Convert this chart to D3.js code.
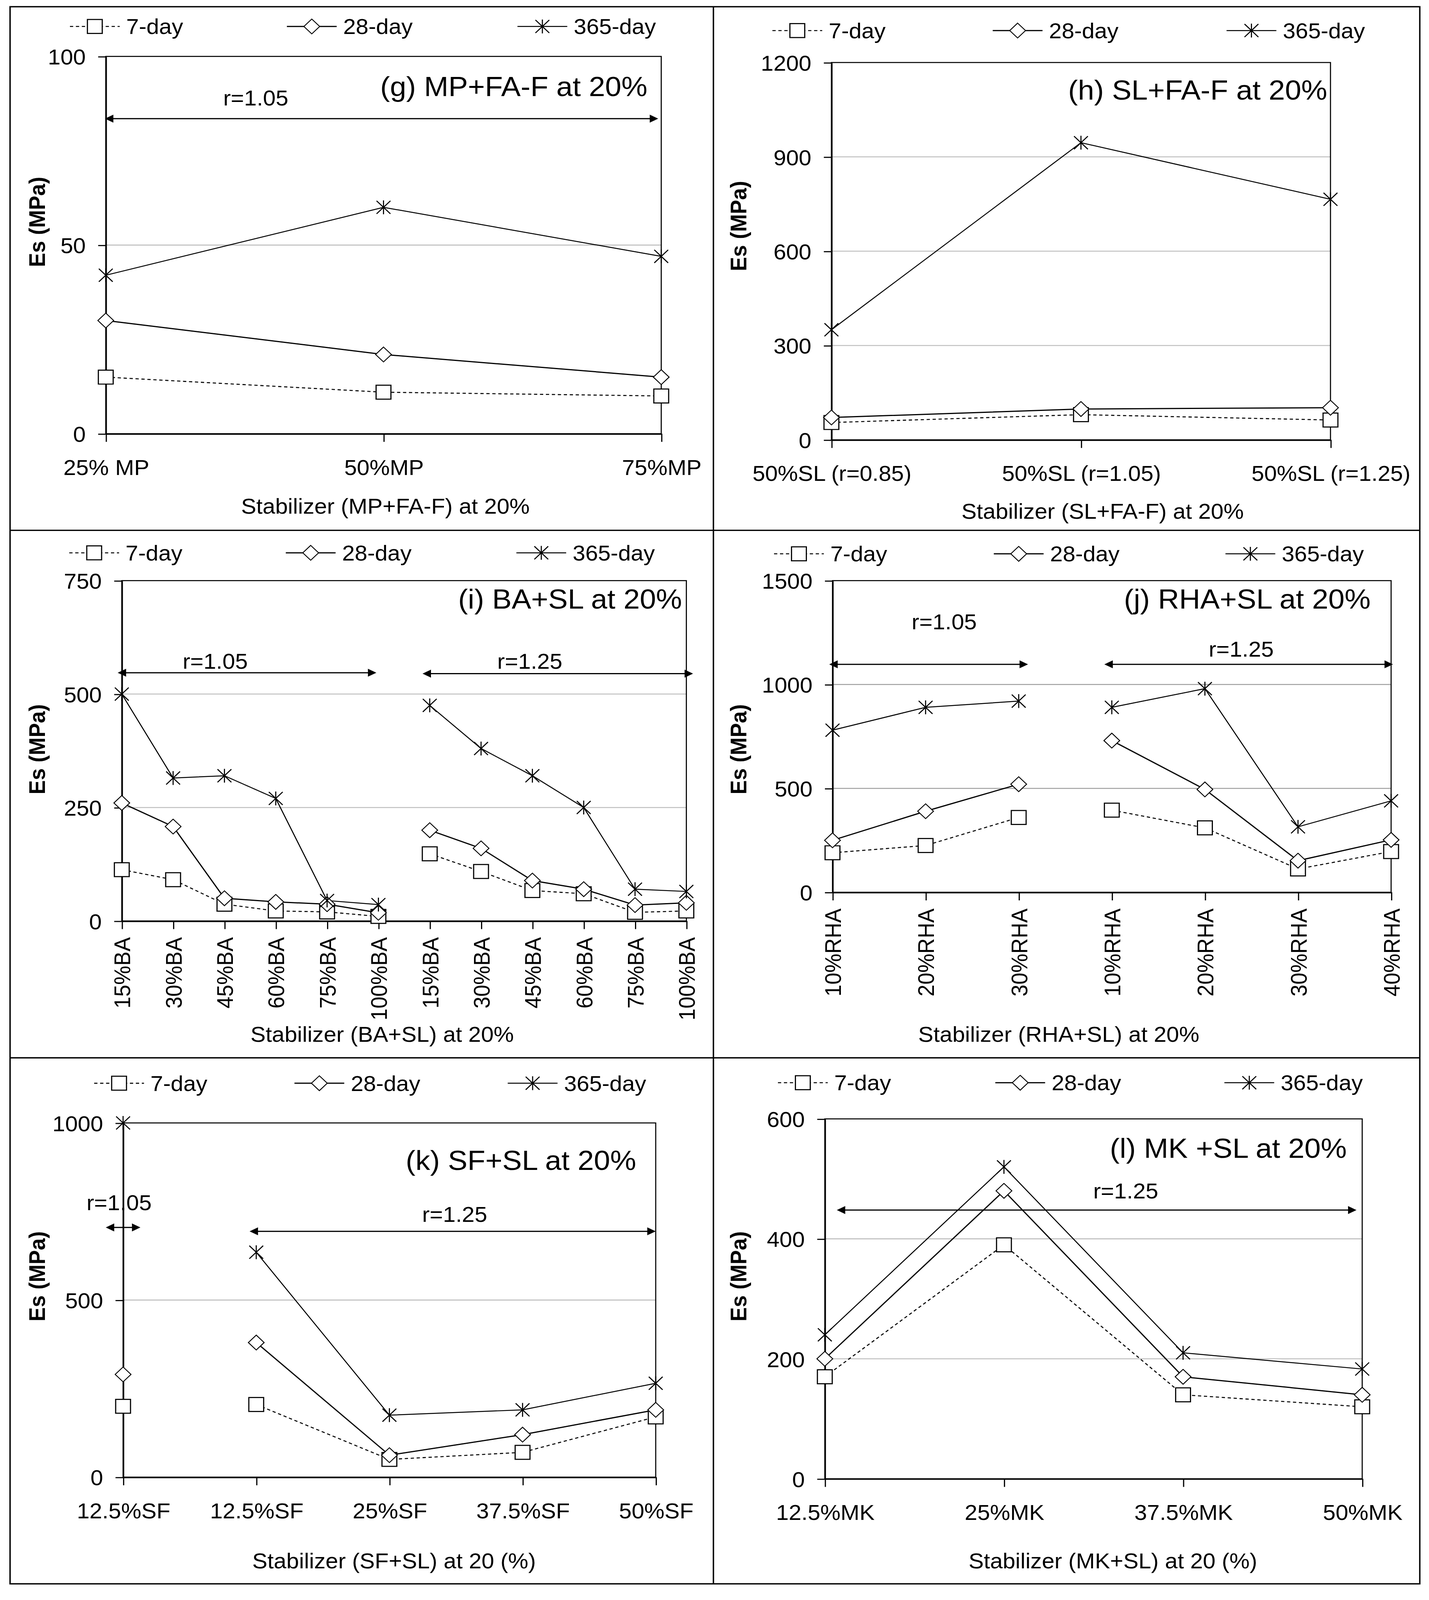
<!DOCTYPE html>
<html><head><meta charset="utf-8">
<script src="https://cdn.jsdelivr.net/npm/d3@7/dist/d3.min.js"></script>
<style>html,body{margin:0;padding:0;background:#fff;overflow:hidden;} svg{display:block;}</style>
</head><body>
<svg id="chart"></svg>
<script>
// ---------------- DATA ----------------
const seriesNames = ["7-day", "28-day", "365-day"];

const gCategories = ["25% MP", "50%MP", "75%MP"];
const g7 = [15, 11, 10];
const g28 = [30, 21, 15];
const g365 = [42, 60, 47];
const gTicks = [0, 50, 100];

const hCategories = ["50%SL (r=0.85)", "50%SL (r=1.05)", "50%SL (r=1.25)"];
const h7 = [55, 80, 63];
const h28 = [71, 98, 102];
const h365 = [350, 945, 765];
const hTicks = [0, 300, 600, 900, 1200];

const iCategories = ["15%BA", "30%BA", "45%BA", "60%BA", "75%BA", "100%BA",
                     "15%BA", "30%BA", "45%BA", "60%BA", "75%BA", "100%BA"];
const i7 = [113, 91, 37, 22, 20, 10, 148, 109, 67, 60, 19, 22];
const i28 = [260, 208, 50, 42, 37, 18, 200, 160, 89, 70, 35, 40];
const i365 = [500, 315, 320, 270, 45, 36, 475, 380, 320, 250, 70, 65];
const iTicks = [0, 250, 500, 750];
const iBreaks = [6];

const jCategories = ["10%RHA", "20%RHA", "30%RHA", "10%RHA", "20%RHA", "30%RHA", "40%RHA"];
const j7 = [190, 225, 360, 395, 310, 112, 196];
const j28 = [250, 390, 520, 730, 495, 152, 252];
const j365 = [780, 890, 920, 890, 980, 315, 440];
const jTicks = [0, 500, 1000, 1500];
const jBreaks = [3];

const kCategories = ["12.5%SF", "12.5%SF", "25%SF", "37.5%SF", "50%SF"];
const k7 = [200, 205, 50, 70, 170];
const k28 = [290, 380, 62, 120, 190];
const k365 = [1000, 635, 175, 190, 265];
const kTicks = [0, 500, 1000];
const kBreaks = [1];

const lCategories = ["12.5%MK", "25%MK", "37.5%MK", "50%MK"];
const l7 = [170, 390, 140, 120];
const l28 = [200, 480, 170, 140];
const l365 = [240, 520, 210, 183];
const lTicks = [0, 200, 400, 600];

const titles = ["(g) MP+FA-F at 20%", "(h) SL+FA-F at 20%", "(i) BA+SL at 20%",
                "(j) RHA+SL at 20%", "(k) SF+SL at 20%", "(l) MK +SL at 20%"];
const xTitles = ["Stabilizer (MP+FA-F) at 20%", "Stabilizer (SL+FA-F) at 20%", "Stabilizer (BA+SL) at 20%",
                 "Stabilizer (RHA+SL) at 20%", "Stabilizer (SF+SL) at 20 (%)", "Stabilizer (MK+SL) at 20 (%)"];
const yTitle = "Es (MPa)";

// ---------------- LAYOUT ----------------
const VW = 1320, VH = 4354 / (3657 / 1320);
const FONT = "'Liberation Sans', Arial, Helvetica, sans-serif";

const panels = [
  { cats: gCategories, series: [g7, g28, g365], ticks: gTicks, breaks: [], rotate: false,
    L: 97.7, R: 610.8, T: 55.4, B: 426, grid: "#c0c0c0",
    titleX: 598, titleY: 84.5, xtX: 356, xtY: 497, ytX: 34, ytY: 218,
    legY: 26, legX: [87.6, 288, 501],
    arrows: [[-0.003, 1.989, 83.5]], rlabels: [[0.54, 89, "r=1.05"]] },
  { cats: hCategories, series: [h7, h28, h365], ticks: hTicks, breaks: [], rotate: false,
    L: 768, R: 1229, T: 61.4, B: 432, grid: "#c0c0c0",
    titleX: 1226, titleY: 88, xtX: 1018.5, xtY: 502, ytX: 682, ytY: 222,
    legY: 30, legX: [736.5, 940, 1156],
    arrows: [], rlabels: [] },
  { cats: iCategories, series: [i7, i28, i365], ticks: iTicks, breaks: iBreaks, rotate: true,
    L: 112.5, R: 634, T: 570.3, B: 904.6, grid: "#c0c0c0",
    titleX: 630, titleY: 588, xtX: 353, xtY: 1015.7, ytX: 34, ytY: 736,
    legY: 543, legX: [87, 287, 500],
    arrows: [[-0.08, 4.96, 547], [5.86, 11.13, 545]],
    rlabels: [[1.82, 573, "r=1.05"], [7.95, 573, "r=1.25"]] },
  { cats: jCategories, series: [j7, j28, j365], ticks: jTicks, breaks: jBreaks, rotate: true,
    L: 769, R: 1285, T: 570.3, B: 876.4, grid: "#a0a0a0",
    titleX: 1266, titleY: 588, xtX: 978, xtY: 1015.7, ytX: 682, ytY: 736,
    legY: 544, legX: [738, 941, 1155],
    arrows: [[-0.035, 2.1, 1097], [2.92, 6.02, 1097]],
    rlabels: [[1.2, 1303, "r=1.05"], [4.39, 1170, "r=1.25"]] },
  { cats: kCategories, series: [k7, k28, k365], ticks: kTicks, breaks: kBreaks, rotate: false,
    L: 113.7, R: 605.7, T: 1103, B: 1450.9, grid: "#c0c0c0",
    titleX: 587.6, titleY: 1139.6, xtX: 364, xtY: 1533, ytX: 34, ytY: 1253.7,
    legY: 1064, legX: [110, 295, 492],
    arrows: [[-0.13, 0.13, 705], [0.95, 4.0, 694]],
    rlabels: [[-0.03, 775, "r=1.05"], [2.49, 742, "r=1.25"]] },
  { cats: lCategories, series: [l7, l28, l365], ticks: lTicks, breaks: [], rotate: false,
    L: 761.9, R: 1258.3, T: 1099, B: 1452.5, grid: "#c0c0c0",
    titleX: 1244, titleY: 1127.7, xtX: 1028, xtY: 1533, ytX: 682, ytY: 1253.7,
    legY: 1063.5, legX: [741.6, 942.4, 1154],
    arrows: [[0.067, 2.968, 448]], rlabels: [[1.68, 480, "r=1.25"]] }
];

const lineStyles = [
  { w: 1.0, dash: "3 2.5" },
  { w: 1.15, dash: null },
  { w: 0.95, dash: null }
];

function markerPath(k) {
  if (k === 0) { const s = 6.85; return `M${-s},${-s}H${s}V${s}H${-s}Z`; }
  if (k === 1) { const s = 7.3; return `M0,${-s}L${s},0L0,${s}L${-s},0Z`; }
  const s = 6.4, v = 6.8;
  return `M${-s},${-s}L${s},${s}M${-s},${s}L${s},${-s}M0,${-v}L0,${v}`;
}
const markerStroke = [1.05, 0.85, 1.0];

// ---------------- DRAW ----------------
const pageW = window.innerWidth || 3657;
const pageH = window.innerHeight || 4354;
const svg = d3.select("#chart")
  .attr("width", pageW).attr("height", pageH)
  .attr("viewBox", `0 0 ${VW} ${VH}`)
  .attr("preserveAspectRatio", "none")
  .style("font-family", FONT);

svg.append("rect").attr("width", VW).attr("height", VH).attr("fill", "#fff");

// outer frame
const frame = svg.append("g").attr("stroke", "#000").attr("stroke-width", 1.3).attr("fill", "none");
frame.append("rect").attr("x", 9.3).attr("y", 6.6).attr("width", 1311.5 - 9.3).attr("height", 1555.7 - 6.6);
frame.append("line").attr("x1", 659).attr("x2", 659).attr("y1", 6.6).attr("y2", 1555.7);
[520.9, 1039].forEach(yy => frame.append("line").attr("x1", 9.3).attr("x2", 1311.5).attr("y1", yy).attr("y2", yy));

function arrowHead(g, x, y, dir) {
  const L = 7.8, H = 3.9;
  g.append("path").attr("d", `M${x},${y}L${x - dir * L},${y - H}L${x - dir * L},${y + H}Z`)
    .attr("fill", "#000").attr("stroke", "none");
}

panels.forEach((p, pi) => {
  const g = svg.append("g");
  const n = p.cats.length;
  const yMax = d3.max(p.ticks);
  const x = d3.scalePoint().domain(d3.range(n)).range([p.L, p.R]).padding(0);
  const xf = d3.scaleLinear().domain([0, n - 1]).range([p.L, p.R]);
  const y = d3.scaleLinear().domain([0, yMax]).range([p.B, p.T]);

  // gridlines
  g.append("g").selectAll("line").data(p.ticks.filter(t => t > 0 && t < yMax)).join("line")
    .attr("x1", p.L).attr("x2", p.R).attr("y1", d => y(d)).attr("y2", d => y(d))
    .attr("stroke", p.grid).attr("stroke-width", 1);

  // plot border
  g.append("rect").attr("x", p.L).attr("y", p.T).attr("width", p.R - p.L).attr("height", p.B - p.T)
    .attr("fill", "none").attr("stroke", "#000").attr("stroke-width", 1);

  // y axis
  const ya = g.append("g").attr("transform", `translate(${p.L},0)`)
    .call(d3.axisLeft(y).tickValues(p.ticks).tickFormat(d3.format("d")).tickSize(7).tickSizeOuter(0).tickPadding(11.5));
  ya.selectAll("path,line").attr("stroke", "#000").attr("stroke-width", 1.1);
  ya.selectAll("text").attr("font-size", 21).attr("font-family", FONT).attr("fill", "#000").attr("dy", "0.36em");

  // x axis
  const xa = g.append("g").attr("transform", `translate(0,${p.B})`)
    .call(d3.axisBottom(x).tickFormat(i => p.cats[i]).tickSize(8).tickSizeOuter(0).tickPadding(17.5));
  xa.selectAll("path,line").attr("stroke", "#000").attr("stroke-width", 1.1);
  xa.selectAll("text").attr("font-size", 21).attr("font-family", FONT).attr("fill", "#000");
  if (p.rotate) {
    xa.selectAll("text")
      .attr("transform", "rotate(-90)")
      .attr("text-anchor", "end")
      .attr("x", -16).attr("y", 0).attr("dy", "0.35em");
  }

  // lines
  const cuts = [0, ...p.breaks, n];
  const segs = [];
  for (let c = 0; c < cuts.length - 1; c++) segs.push(d3.range(cuts[c], cuts[c + 1]));
  const line = d3.line().x(d => x(d.i)).y(d => y(d.v));
  p.series.forEach((vals, si) => {
    segs.forEach(seg => {
      if (seg.length < 2) return;
      g.append("path").datum(seg.map(i => ({ i, v: vals[i] })))
        .attr("d", line).attr("fill", "none").attr("stroke", "#000")
        .attr("stroke-width", lineStyles[si].w)
        .attr("stroke-dasharray", lineStyles[si].dash);
    });
  });
  // markers
  p.series.forEach((vals, si) => {
    g.append("g").selectAll("path").data(vals.map((v, i) => ({ i, v }))).join("path")
      .attr("transform", d => `translate(${x(d.i)},${y(d.v)})`)
      .attr("d", markerPath(si))
      .attr("fill", si < 2 ? "#fff" : "none").attr("stroke", "#000")
      .attr("stroke-width", markerStroke[si]);
  });

  // arrows
  p.arrows.forEach(([a, b, v]) => {
    const x1 = xf(a), x2 = xf(b), yy = y(v);
    g.append("line").attr("x1", x1 + 6).attr("x2", x2 - 6).attr("y1", yy).attr("y2", yy)
      .attr("stroke", "#000").attr("stroke-width", 1.1);
    arrowHead(g, x1, yy, -1);
    arrowHead(g, x2, yy, 1);
  });
  p.rlabels.forEach(([a, v, t]) => {
    g.append("text").attr("x", xf(a)).attr("y", y(v) + 7.5).attr("text-anchor", "middle")
      .attr("font-size", 21).text(t);
  });

  // title
  g.append("text").attr("x", p.titleX).attr("y", p.titleY + 9.7).attr("text-anchor", "end")
    .attr("font-size", 27).text(titles[pi]);

  // x title
  g.append("text").attr("x", p.xtX).attr("y", p.xtY + 7.5).attr("text-anchor", "middle")
    .attr("font-size", 21).text(xTitles[pi]);

  // y title
  g.append("text").attr("transform", `translate(${p.ytX + 7.5},${p.ytY}) rotate(-90)`)
    .attr("text-anchor", "middle").attr("font-size", 21).attr("font-weight", "bold").text(yTitle);

  // legend
  const lg = g.append("g");
  seriesNames.forEach((name, si) => {
    const mx = p.legX[si], my = p.legY;
    lg.append("line").attr("x1", mx - 23).attr("x2", mx + 23).attr("y1", my).attr("y2", my)
      .attr("stroke", "#000").attr("stroke-width", lineStyles[si].w)
      .attr("stroke-dasharray", lineStyles[si].dash);
    lg.append("path").attr("transform", `translate(${mx},${my})`).attr("d", markerPath(si))
      .attr("fill", si < 2 ? "#fff" : "none").attr("stroke", "#000").attr("stroke-width", markerStroke[si]);
    lg.append("text").attr("x", mx + 29).attr("y", my + 7.5).attr("font-size", 21).text(name);
  });
});
</script>
</body></html>
